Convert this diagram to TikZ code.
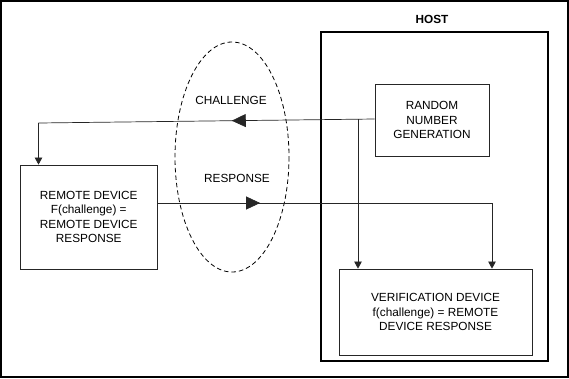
\documentclass[tikz,border=0pt]{standalone}
\usepackage{fontspec}
\setmainfont{Liberation Sans}
\usetikzlibrary{arrows.meta,decorations.markings}
\begin{document}
\begin{tikzpicture}[x=1pt,y=-1pt,
  box/.style={draw=black!85,line width=0.8pt,inner sep=0pt,align=center,font=\fontsize{11.8}{14.6}\selectfont},
  conn/.style={draw=black!85,line width=0.7pt,-{Triangle[length=7pt,width=7.5pt]}},
  bigmark/.style={postaction={decorate},decoration={markings,mark=at position #1 with {\arrow{Triangle[length=14pt,width=13pt]}}}},
  lbl/.style={font=\fontsize{11.8}{14}\selectfont}]
\useasboundingbox (0,0) rectangle (569,378);
\draw[line width=2pt] (1,1) rectangle (568,377);
% host
\node[draw,line width=2.2pt,minimum width=227pt,minimum height=329pt,inner sep=0pt] (host) at (434.5,196.5) {};
\node[font=\bfseries\fontsize{11.8}{14}\selectfont] (hostlbl) at (432,19) {HOST};
% boxes
\node[box,minimum width=114pt,minimum height=72pt] (rng) at (432,120) {RANDOM\\NUMBER\\GENERATION};
\node[box,minimum width=137.5pt,minimum height=104pt] (remote) at (88.75,217) {REMOTE DEVICE\\F(challenge) =\\REMOTE DEVICE\\RESPONSE};
\node[box,minimum width=193pt,minimum height=86pt] (ver) at (435.5,312) {VERIFICATION DEVICE\\f(challenge) = REMOTE\\DEVICE RESPONSE};
% ellipse
\draw[dashed,dash pattern=on 4.5pt off 3pt,line width=0.8pt] (232,157) ellipse [x radius=57,y radius=115];
\node[lbl] (chal) at (231,100) {CHALLENGE};
\node[lbl] (resp) at (237,178) {RESPONSE};
% challenge
\coordinate (rngW) at (rng.west |- 0,119);
\coordinate (c1) at (38.5,123);
\coordinate (b1) at (358,119);
\coordinate (r1) at (492,203);
\draw[line width=0.7pt,black!85,bigmark=0.425] (rngW) -- (c1);
\draw[conn] (c1) -- (remote.north -| c1);
\draw[conn] (b1) -- (ver.north -| b1);
% response
\coordinate (remE) at (remote.east |- 0,203);
\draw[line width=0.7pt,black!85,bigmark=0.306] (remE) -- (r1);
\draw[conn] (r1) -- (ver.north -| r1);
\end{tikzpicture}
\end{document}
